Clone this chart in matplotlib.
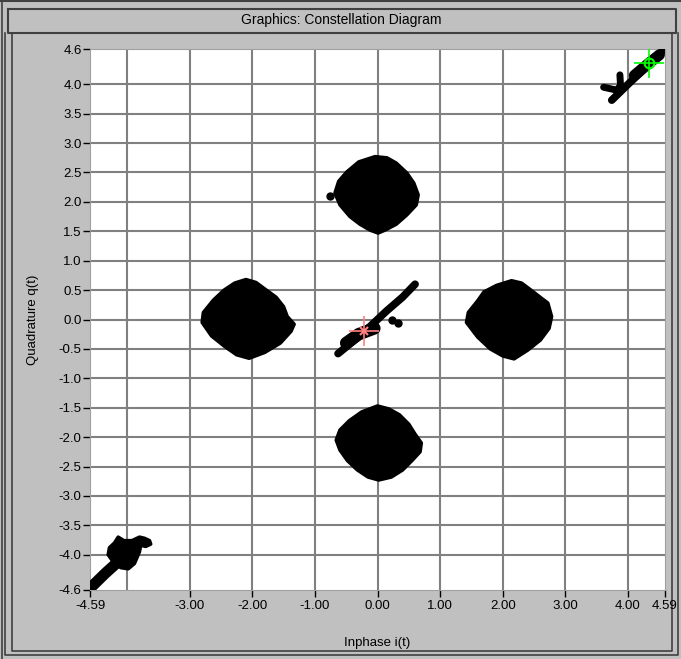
import matplotlib
matplotlib.use('Agg')
import matplotlib.pyplot as plt

plt.rcParams['font.family'] = ['Liberation Sans', 'DejaVu Sans']

# axis ticks and labels
x_ticks = [-4.59, -3.0, -2.0, -1.0, 0.0, 1.0, 2.0, 3.0, 4.0, 4.59]
x_labels = ['-4.59', '-3.00', '-2.00', '-1.00', '0.00', '1.00', '2.00', '3.00', '4.00', '4.59']
y_ticks = [4.6, 4.0, 3.5, 3.0, 2.5, 2.0, 1.5, 1.0, 0.5, 0.0, -0.5, -1.0, -1.5, -2.0, -2.5, -3.0, -3.5, -4.0, -4.6]
y_labels = ['4.6', '4.0', '3.5', '3.0', '2.5', '2.0', '1.5', '1.0', '0.5', '0.0', '-0.5', '-1.0',
            '-1.5', '-2.0', '-2.5', '-3.0', '-3.5', '-4.0', '-4.6']
grid_i = [-4, -3, -2, -1, 0, 1, 2, 3, 4]
grid_q = [-4.0, -3.5, -3.0, -2.5, -2.0, -1.5, -1.0, -0.5, 0.0, 0.5, 1.0, 1.5, 2.0, 2.5, 3.0, 3.5, 4.0]

# outlines of the symbol clouds
right_i = [2.14, 2.22, 2.30, 2.45, 2.62, 2.72, 2.78, 2.74, 2.60, 2.40, 2.18, 2.00, 1.80, 1.60, 1.42, 1.45, 1.60, 1.70, 1.90]
right_q = [0.66, 0.64, 0.62, 0.50, 0.36, 0.28, 0.05, -0.15, -0.35, -0.52, -0.67, -0.62, -0.50, -0.30, -0.05, 0.12, 0.32, 0.47, 0.58]
left_i = [-2.10, -1.94, -1.80, -1.62, -1.50, -1.44, -1.33, -1.38, -1.55, -1.80, -2.05, -2.25, -2.45, -2.65, -2.80, -2.78, -2.62, -2.45, -2.28]
left_q = [0.68, 0.63, 0.52, 0.38, 0.22, 0.05, -0.08, -0.20, -0.40, -0.56, -0.66, -0.60, -0.45, -0.28, -0.05, 0.12, 0.33, 0.50, 0.62]
top_i = [-0.04, 0.15, 0.30, 0.47, 0.58, 0.65, 0.62, 0.47, 0.30, 0.12, 0.01, -0.12, -0.28, -0.44, -0.60, -0.68, -0.62, -0.49, -0.30]
top_q = [2.77, 2.75, 2.66, 2.49, 2.32, 2.12, 1.95, 1.78, 1.62, 1.52, 1.47, 1.52, 1.62, 1.75, 1.95, 2.15, 2.35, 2.51, 2.68]
bot_i = [0.00, 0.18, 0.35, 0.50, 0.60, 0.70, 0.68, 0.55, 0.40, 0.22, 0.02, -0.15, -0.32, -0.48, -0.60, -0.66, -0.60, -0.45, -0.25]
bot_q = [-1.47, -1.52, -1.62, -1.78, -1.95, -2.10, -2.25, -2.40, -2.56, -2.68, -2.73, -2.68, -2.56, -2.40, -2.22, -2.05, -1.88, -1.72, -1.57]
ll_i = [-4.14, -4.05, -3.92, -3.80, -3.72, -3.64, -3.62, -3.70, -3.78, -3.80, -3.88, -3.98, -4.10, -4.22, -4.30, -4.28, -4.20]
ll_q = [-3.70, -3.76, -3.76, -3.70, -3.72, -3.76, -3.82, -3.86, -3.84, -3.95, -4.15, -4.24, -4.22, -4.12, -4.00, -3.88, -3.80]

# diagonal streaks
mid_i = [-0.63, -0.40, -0.15, 0.15, 0.40, 0.60]
mid_q = [-0.58, -0.38, -0.15, 0.15, 0.38, 0.60]
mid_thick_i = [-0.50, -0.30, -0.05]
mid_thick_q = [-0.40, -0.25, -0.15]
ur_i = [3.74, 4.00, 4.30, 4.56]
ur_q = [3.73, 4.00, 4.30, 4.58]
ur_thick_i = [4.10, 4.30, 4.50]
ur_thick_q = [4.15, 4.33, 4.50]
ur_branch_i = [3.61, 3.82, 3.88, 3.87]
ur_branch_q = [3.95, 3.90, 3.98, 4.16]
ll_streak_i = [-4.57, -4.35, -4.10]
ll_streak_q = [-4.55, -4.32, -4.08]
outlier_i = [-0.76, 0.23, 0.33]
outlier_q = [2.10, 0.00, -0.06]

# markers
green_i, green_q = 4.34, 4.37
red_i, red_q = -0.22, -0.19

W, H = 681, 659
fig = plt.figure(figsize=(W / 100, H / 100), dpi=100)
fig.patch.set_facecolor('#c0c0c0')

# window frame drawn in pixel coords
bg = fig.add_axes([0, 0, 1, 1], zorder=-1)
bg.set_xlim(0, W)
bg.set_ylim(H, 0)
bg.axis('off')
dark = '#404040'
bg.plot([0, W], [1, 1], color=dark, lw=1.5)
bg.plot([2, 2], [0, H], color=dark, lw=1.2)
bg.plot([8, 676, 676, 8, 8], [9, 9, 33, 33, 9], color=dark, lw=1.5)
bg.plot([5, 5, 678, 678], [33, 655, 655, 33], color=dark, lw=1.2)
bg.plot([12, 12, 672, 672], [33, 651, 651, 33], color=dark, lw=1.2)
bg.text(341, 20, 'Graphics: Constellation Diagram', ha='center', va='center', fontsize=10)

ax = fig.add_axes([90 / W, (H - 590) / H, 575 / W, 541 / H])
ax.set_facecolor('white')
ax.set_xlim(-4.59, 4.59)
ax.set_ylim(-4.6, 4.6)

for g in grid_i:
    ax.axvline(g, color='#808080', lw=1.5, zorder=1)
for g in grid_q:
    ax.axhline(g, color='#808080', lw=1.5, zorder=1)

for xs, ys in [(right_i, right_q), (left_i, left_q), (top_i, top_q), (bot_i, bot_q), (ll_i, ll_q)]:
    ax.fill(xs, ys, facecolor='black', edgecolor='black', lw=2.5, joinstyle='round', zorder=3)

for xs, ys, w in [(mid_i, mid_q, 5.5), (mid_thick_i, mid_thick_q, 9), (ur_i, ur_q, 5.5),
                  (ur_thick_i, ur_thick_q, 8), (ur_branch_i, ur_branch_q, 5),
                  (ll_streak_i, ll_streak_q, 8)]:
    ax.plot(xs, ys, color='black', lw=w, solid_capstyle='round', solid_joinstyle='round', zorder=3)
ax.plot(outlier_i, outlier_q, 'o', color='black', ms=5, zorder=3)

ax.plot(green_i, green_q, '+', color='#00ff00', ms=22, mew=1.2, zorder=5)
ax.plot(green_i, green_q, 'o', mfc='none', mec='#00ff00', ms=7, mew=1.5, zorder=5)
ax.plot(red_i, red_q, '+', color='#ff8080', ms=22, mew=1.2, zorder=5)
ax.plot(red_i, red_q, 'x', color='#ff8080', ms=6, mew=1.5, zorder=5)

ax.set_xticks(x_ticks)
ax.set_xticklabels(x_labels)
ax.set_yticks(y_ticks)
ax.set_yticklabels(y_labels)
ax.tick_params(axis='both', direction='out', length=5, width=1, color='black', labelsize=9.5)
ax.tick_params(axis='y', pad=1)
ax.tick_params(axis='x', pad=2)
for s in ax.spines.values():
    s.set_color('#a0a0a0')
    s.set_linewidth(0.8)

ax.set_xlabel('Inphase i(t)', fontsize=9.5)
ax.xaxis.set_label_coords(0.5, -0.098)
ax.xaxis.label.set_va('center')
ax.set_ylabel('Quadrature q(t)', fontsize=9.5)
ax.yaxis.set_label_coords(-0.099, 0.5)
ax.yaxis.label.set_va('center')

fig.savefig('out.png', dpi=100, facecolor=fig.get_facecolor())
